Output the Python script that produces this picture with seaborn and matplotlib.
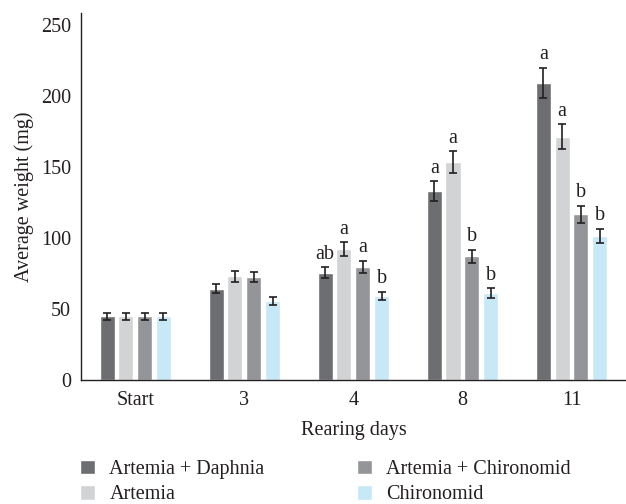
import matplotlib
matplotlib.use("Agg")
import matplotlib.pyplot as plt
import numpy as np
import pandas as pd
import seaborn as sns

days = ["Start", "3", "4", "8", "11"]
diets = ["Artemia + Daphnia", "Artemia", "Artemia + Chironomid", "Chironomid"]
colors = ["#6d6e71", "#d1d3d4", "#939598", "#c7e8f7"]

# mean weight (mg) per diet, one value per rearing day
artemia_daphnia = [45, 64.3, 75.6, 133.1, 209.2]
artemia = [45, 73.2, 92.3, 153.5, 171.4]
artemia_chironomid = [45, 72.8, 79.8, 87.3, 116.9]
chironomid = [45, 55.6, 59.2, 61.3, 101.4]

err_ad = [2.5, 3.2, 3.9, 6.8, 10.6]
err_a = [2.5, 3.9, 4.8, 7.6, 8.7]
err_ac = [2.5, 3.5, 4.1, 4.6, 6.0]
err_c = [2.5, 3.0, 3.0, 3.2, 5.2]

let_ad = ["", "", "ab", "a", "a"]
let_a = ["", "", "a", "a", "a"]
let_ac = ["", "", "a", "b", "b"]
let_c = ["", "", "b", "b", "b"]

values = [artemia_daphnia, artemia, artemia_chironomid, chironomid]
errors = [err_ad, err_a, err_ac, err_c]
letters = [let_ad, let_a, let_ac, let_c]

rows = []
for d, vals, errs, lets in zip(diets, values, errors, letters):
    for day, v, e, l in zip(days, vals, errs, lets):
        rows.append({"day": day, "diet": d, "weight": v, "err": e, "letter": l})
df = pd.DataFrame(rows)

sns.set_style("white")
plt.rcParams["font.family"] = ["Liberation Serif", "DejaVu Serif"]
ink = "#231f20"
fs = 14.5

fig = plt.figure(figsize=(6.26, 5.04), dpi=100)
ax = fig.add_axes([0.129, 0.246, 0.871, 0.728])

sns.barplot(data=df, x="day", y="weight", hue="diet", order=days,
            hue_order=diets, palette=colors, width=0.69, gap=0.2,
            saturation=1, errorbar=None, ax=ax, legend=True)

# error bars and letters on each bar
for container, d in zip(ax.containers, diets):
    sub = df[df["diet"] == d].set_index("day").loc[days]
    xs = [p.get_x() + p.get_width() / 2 for p in container.patches]
    ax.errorbar(xs, sub["weight"], yerr=sub["err"], fmt="none",
                ecolor=ink, elinewidth=1.2, capsize=2.8, capthick=1.2)
    for x, v, e, l in zip(xs, sub["weight"], sub["err"], sub["letter"]):
        if l:
            ax.text(x, v + e + 2.5, l, ha="center", va="bottom",
                    fontsize=fs, color=ink)

ax.set_ylim(0, 258.5)
ax.set_xlim(-0.5, 4.43)
ax.set_yticks([0, 50, 100, 150, 200, 250])
ax.tick_params(axis="y", length=0, labelsize=fs, colors=ink, pad=7)
ax.tick_params(axis="x", which="major", length=0, labelsize=fs,
               colors=ink, pad=8)
ax.set_xticks(np.arange(-0.5, 4.6, 1), minor=True)
ax.tick_params(axis="x", which="minor", length=6, width=1,
               color=ink, direction="out")
ax.set_xlabel("Rearing days", fontsize=fs, color=ink, labelpad=8)
ax.set_ylabel("Average weight (mg)", fontsize=fs, color=ink, labelpad=5)

for s in ["top", "right"]:
    ax.spines[s].set_visible(False)
for s in ["left", "bottom"]:
    ax.spines[s].set_color(ink)
    ax.spines[s].set_linewidth(1)

handles, labs = ax.get_legend_handles_labels()
ax.get_legend().remove()
fig.legend(handles, labs, ncol=2, loc="upper left",
           bbox_to_anchor=(0.128, 0.088), frameon=False, fontsize=fs,
           borderpad=0, borderaxespad=0,
           handlelength=0.75, handleheight=0.75, handletextpad=0.7,
           columnspacing=4.6, labelspacing=0.3, labelcolor=ink)

fig.savefig("out.png", dpi=100)
